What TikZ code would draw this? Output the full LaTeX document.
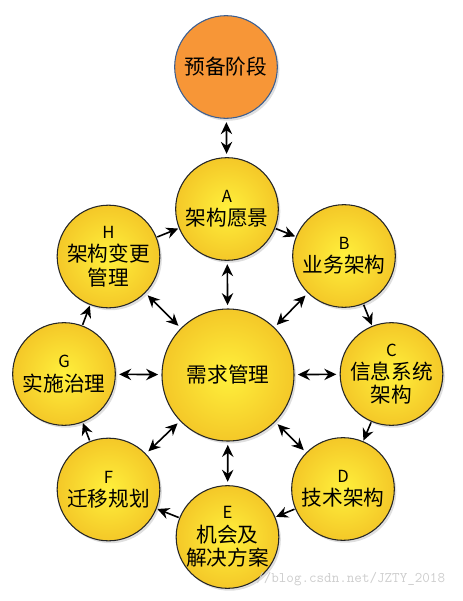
\documentclass[tikz,border=0pt]{standalone}
\usepackage{fontspec}
\setmainfont{Noto Sans CJK SC}
\usetikzlibrary{shadows,arrows.meta}
\definecolor{yin}{RGB}{255,240,60}
\definecolor{yout}{RGB}{244,200,40}
\definecolor{orng}{RGB}{247,150,55}
\definecolor{blueedge}{RGB}{60,95,145}
\definecolor{wm}{RGB}{205,205,205}
\tikzset{
  phase/.style={circle, draw=black!85, line width=0.8pt, inner sep=0pt,
    minimum size=77pt, shading=radial, inner color=yin, outer color=yout,
    align=center, font=\fontsize{15.5}{17.5}\selectfont,
    drop shadow={opacity=0.25, shadow xshift=1.5pt, shadow yshift=-1.8pt}},
  hub/.style={phase, minimum size=99pt},
  prep/.style={circle, draw=blueedge, line width=0.8pt, inner sep=0pt,
    minimum size=77pt, fill=orng, align=center, font=\fontsize{15.5}{17.5}\selectfont,
    drop shadow={opacity=0.25, shadow xshift=1.5pt, shadow yshift=-1.8pt}},
  cyc/.style={-{Stealth[length=9pt,width=8.5pt,inset=3pt]}, line width=1.2pt, shorten >=0.5pt, shorten <=0.5pt},
  bi/.style={{Stealth[length=9pt,width=8.5pt,inset=3pt]}-{Stealth[length=9pt,width=8.5pt,inset=3pt]}, line width=1.2pt, shorten >=2.5pt, shorten <=2.5pt},
  lt/.style={font=\fontsize{12}{14}\selectfont}
}
\begin{document}
\begin{tikzpicture}[x=0.75pt,y=-0.75pt]
\useasboundingbox (0,0) rectangle (463,601);
\node[prep] (P) at (226,67) {预备阶段};
\node[phase] (A) at (227,209) {{\fontsize{12.5}{14}\selectfont A}\\架构愿景};
\node[phase] (B) at (344,256) {{\fontsize{12.5}{14}\selectfont B}\\业务架构};
\node[phase] (C) at (391.5,374) {{\fontsize{12.5}{14}\selectfont C}\\信息系统\\架构};
\node[phase] (D) at (343,489) {{\fontsize{12.5}{14}\selectfont D}\\技术架构};
\node[phase] (E) at (227.5,537) {{\fontsize{12.5}{14}\selectfont E}\\机会及\\解决方案};
\node[phase] (F) at (108.5,489.5) {{\fontsize{12.5}{14}\selectfont F}\\迁移规划};
\node[phase] (G) at (64,374) {{\fontsize{12.5}{14}\selectfont G}\\实施治理};
\node[phase] (H) at (108.5,256.5) {{\fontsize{12.5}{14}\selectfont H}\\架构变更\\管理};
\node[hub] (R) at (228,375) {需求管理};
\draw[bi] (P) -- (A);
\draw[cyc] (A) -- (B);
\draw[cyc] (B) -- (C);
\draw[cyc] (C) -- (D);
\draw[cyc] (D) -- (E);
\draw[cyc] (E) -- (F);
\draw[cyc] (F) -- (G);
\draw[cyc] (G) -- (H);
\draw[cyc] (H) -- (A);
\foreach \n in {A,B,C,D,E,F,G,H} \draw[bi] (R) -- (\n);
\node[anchor=west, text=wm, font=\ttfamily\fontsize{11}{13}\selectfont, inner sep=0pt] (W) at (256,579) {//blog.csdn.net/JZTY\_2018};
\end{tikzpicture}
\end{document}
